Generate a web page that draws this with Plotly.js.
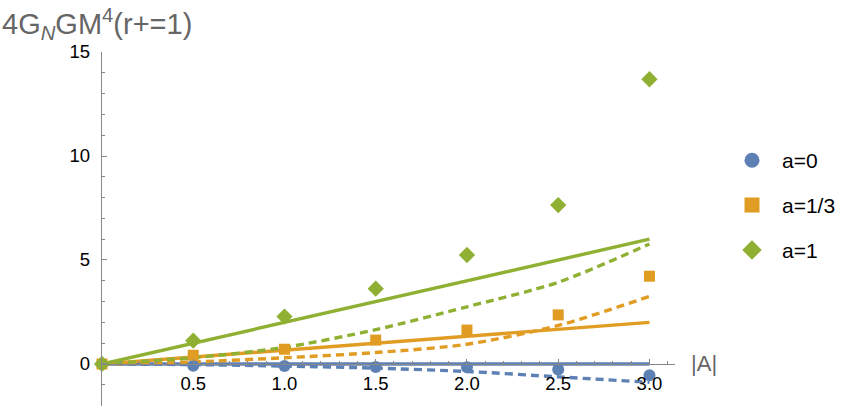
<!DOCTYPE html>
<html>
<head>
<meta charset="utf-8">
<script src="https://cdn.plot.ly/plotly-3.0.1.min.js"></script>
<style>html,body{margin:0;padding:0;background:#fff;}#chart{width:856px;height:412px;}</style>
</head>
<body>
<div id="chart"></div>
<script>
// ---- data ----
const xPts = [0, 0.5, 1.0, 1.5, 2.0, 2.5, 3.0];
const a0Pts = [0, -0.08, -0.1, -0.15, -0.16, -0.26, -0.54];
const a13Pts = [0, 0.42, 0.71, 1.15, 1.63, 2.36, 4.22];
const a1Pts = [0, 1.12, 2.28, 3.62, 5.24, 7.64, 13.69];

const xLine = [0, 0.5, 1.0, 1.5, 2.0, 2.5, 3.0];
const a0Solid = [0, 0, 0, 0, 0, 0, 0];
const a13Solid = [0, 0.33, 0.67, 1.0, 1.33, 1.67, 2.0];
const a1Solid = [0, 1.0, 2.0, 3.0, 4.0, 5.0, 6.0];
const a0Dash = [0, -0.03, -0.1, -0.2, -0.36, -0.62, -0.88];
const a13Dash = [0, 0.1, 0.3, 0.55, 0.95, 1.85, 3.25];
const a1Dash = [0, 0.3, 0.8, 1.65, 2.75, 3.93, 5.77];

const seriesNames = ['a=0', 'a=1/3', 'a=1'];
const xTickVals = [0.5, 1.0, 1.5, 2.0, 2.5, 3.0];
const xTickText = ['0.5', '1.0', '1.5', '2.0', '2.5', '3.0'];
const yTickVals = [0, 5, 10, 15];
const yTickText = ['0', '5', '10', '15'];

const colors = ['#5E81B5', '#E19C24', '#8FB032'];
const symbols = ['circle', 'square', 'diamond'];
const markerSizes = [12, 11, 12.5];
const pts = [a0Pts, a13Pts, a1Pts];
const solids = [a0Solid, a13Solid, a1Solid];
const dashes = [a0Dash, a13Dash, a1Dash];

const FONT = 'Liberation Sans, Arial, Helvetica, sans-serif';
const yMin = -2.02, yMax = 15;

const traces = [];
for (let i = 0; i < 3; i++) {
  traces.push({x: xLine, y: solids[i], mode: 'lines', type: 'scatter', showlegend: false, hoverinfo: 'skip',
    line: {color: colors[i], width: 3.4}});
  traces.push({x: xLine, y: dashes[i], mode: 'lines', type: 'scatter', showlegend: false, hoverinfo: 'skip',
    line: {color: colors[i], width: 3.4, dash: '8px,5px', shape: 'spline', smoothing: 0.8}});
}
for (let i = 0; i < 3; i++) {
  traces.push({x: xPts, y: pts[i], mode: 'markers', type: 'scatter', showlegend: false, cliponaxis: false,
    marker: {color: colors[i], symbol: symbols[i], size: markerSizes[i]}});
}
// legend entries
for (let i = 0; i < 3; i++) {
  traces.push({x: [null], y: [null], mode: 'markers', type: 'scatter', name: seriesNames[i], legendgroup: 'g' + i,
    marker: {color: colors[i], symbol: symbols[i], size: 15}});
}

const layout = {
  width: 856, height: 412,
  margin: {l: 102, r: 181, t: 52, b: 6, pad: 0},
  paper_bgcolor: '#fff', plot_bgcolor: '#fff',
  font: {family: FONT, size: 18.5, color: '#000'},
  showlegend: true,
  legend: {x: (722 - 102) / 573, xanchor: 'left', xref: 'paper', y: 0.751, yanchor: 'top', font: {family: FONT, size: 21, color: '#000'},
    tracegroupgap: 14.5, itemwidth: 50, bgcolor: 'rgba(0,0,0,0)'},
  xaxis: {
    range: [0, 3.14], anchor: 'free', position: (0 - yMin) / (yMax - yMin),
    showgrid: false, zeroline: false, showline: true, linecolor: '#888', linewidth: 1.2,
    ticks: 'inside', ticklen: 5, tickcolor: '#888', tickwidth: 1,
    tickvals: xTickVals, ticktext: xTickText, tickfont: {family: FONT, size: 18.5, color: '#000'},
    ticklabelstandoff: 3,
    minor: {tickvals: [0.1,0.2,0.3,0.4,0.6,0.7,0.8,0.9,1.1,1.2,1.3,1.4,1.6,1.7,1.8,1.9,2.1,2.2,2.3,2.4,2.6,2.7,2.8,2.9,3.1], ticks: 'inside', ticklen: 3, tickcolor: '#888', tickwidth: 1}
  },
  yaxis: {
    range: [yMin, yMax], showgrid: false, zeroline: false, showline: true, linecolor: '#888', linewidth: 1.2,
    ticks: 'inside', ticklen: 5, tickcolor: '#888', tickwidth: 1,
    tickvals: yTickVals, ticktext: yTickText, tickfont: {family: FONT, size: 18.5, color: '#000'},
    ticklabelstandoff: 7,
    minor: {tickvals: [-2,-1,1,2,3,4,6,7,8,9,11,12,13,14], ticks: 'inside', ticklen: 3, tickcolor: '#888', tickwidth: 1}
  },
  annotations: [
    {xref: 'paper', yref: 'paper', x: -102/573, y: 1 + 28/354, xanchor: 'left', yanchor: 'middle', showarrow: false,
      text: '4G<sub><i>N</i></sub>GM<sup>4</sup>(r+=1)', font: {family: FONT, size: 29, color: '#666'}},
    {xref: 'x', yref: 'y', x: 3.14, y: 0, xanchor: 'left', yanchor: 'middle', xshift: 14, showarrow: false,
      text: '|A|', font: {family: FONT, size: 22, color: '#666'}}
  ]
};

Plotly.newPlot('chart', traces, layout, {staticPlot: true, displayModeBar: false});
</script>
</body>
</html>
